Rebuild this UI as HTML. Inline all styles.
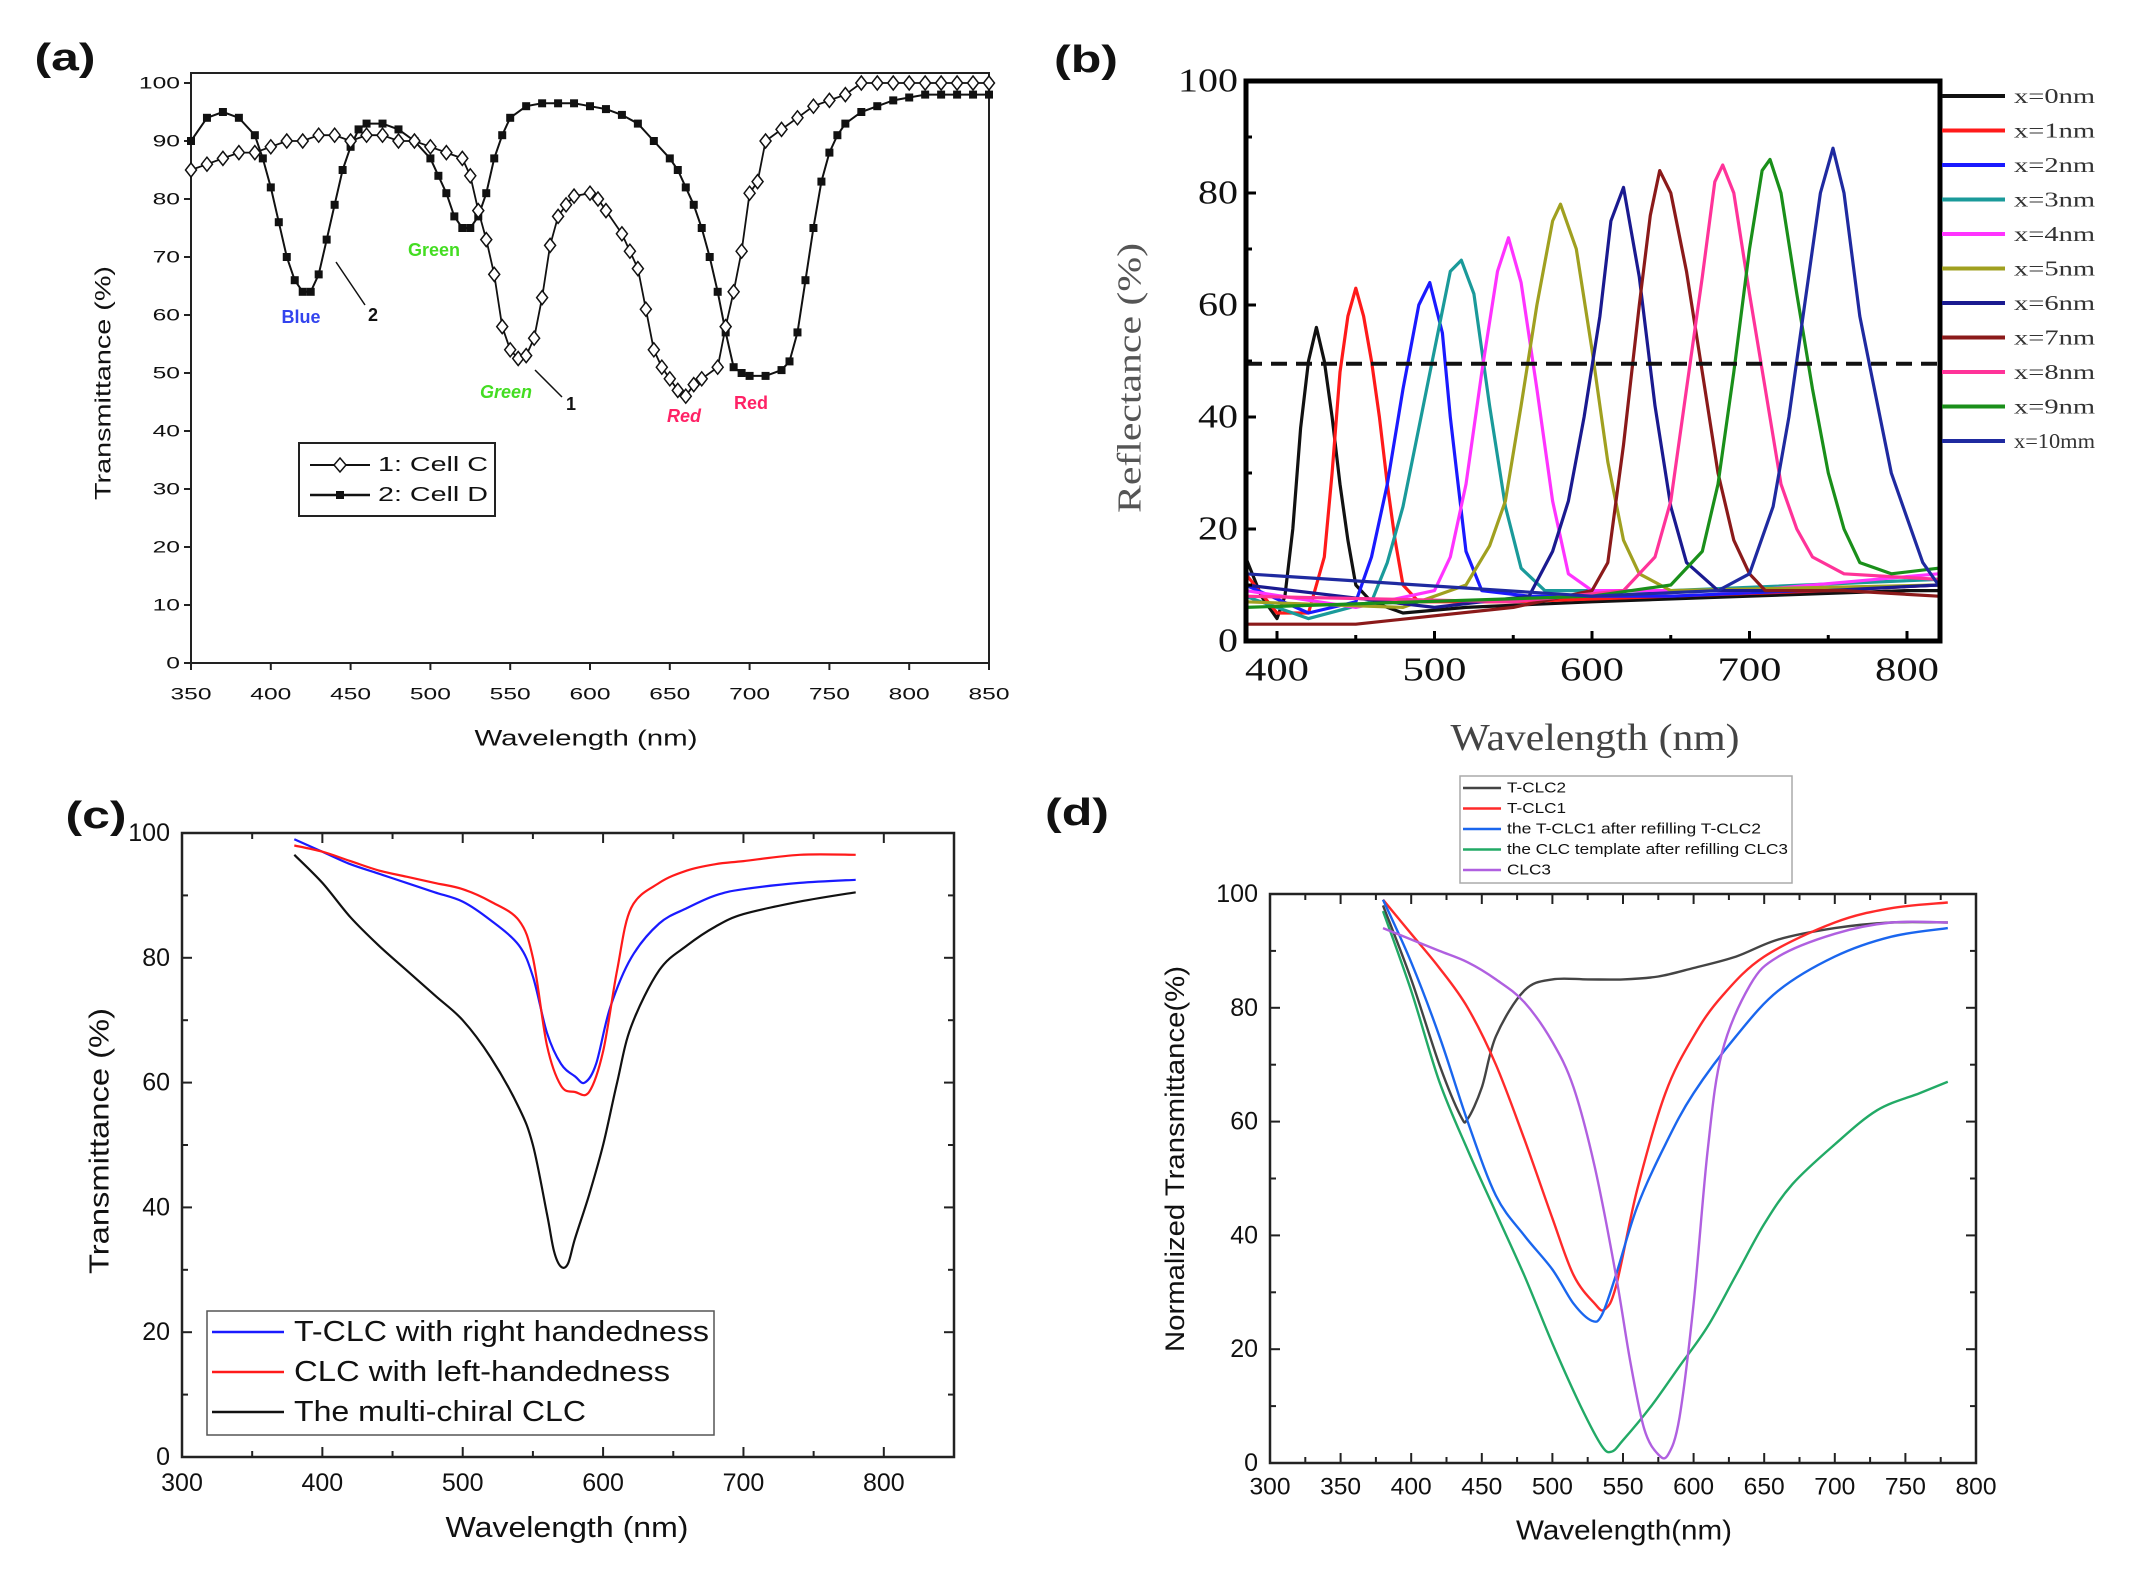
<!DOCTYPE html>
<html><head><meta charset="utf-8"><style>
html,body{margin:0;padding:0;background:#fff;}
svg{display:block;}
text{font-family:"Liberation Sans",sans-serif;}
.serif{font-family:"Liberation Serif",serif;}
</style></head><body>
<svg id="fig" xmlns="http://www.w3.org/2000/svg" width="2144" height="1577" viewBox="0 0 2144 1577">
<rect x="0" y="0" width="2144" height="1577" fill="#fff"/>
</svg>
<script>
// ===== Panel (a) data =====
const aCWl = [350,360,370,380,390,400,410,420,430,440,450,460,470,480,490,500,510,520,525,530,535,540,545,550,555,560,565,570,575,580,585,590,600,605,610,620,625,630,635,640,645,650,655,660,665,670,680,685,690,695,700,705,710,720,730,740,750,760,770,780,790,800,810,820,830,840,850];
const aCVal = [85,86,87,88,88,89,90,90,91,91,90,91,91,90,90,89,88,87,84,78,73,67,58,54,52.5,53,56,63,72,77,79,80.5,81,80,78,74,71,68,61,54,51,49,47,46,48,49,51,58,64,71,81,83,90,92,94,96,97,98,100,100,100,100,100,100,100,100,100];
const aDWl = [350,360,370,380,390,395,400,405,410,415,420,425,430,435,440,445,450,455,460,470,480,490,500,505,510,515,520,525,530,535,540,545,550,560,570,580,590,600,610,620,630,640,650,655,660,665,670,675,680,685,690,695,700,710,720,725,730,735,740,745,750,755,760,770,780,790,800,810,820,830,840,850];
const aDVal = [90,94,95,94,91,87,82,76,70,66,64,64,67,73,79,85,89,92,93,93,92,90,87,84,81,77,75,75,77,81,87,91,94,96,96.5,96.5,96.5,96,95.5,94.5,93,90,87,85,82,79,75,70,64,57,51,50,49.5,49.5,50.5,52,57,66,75,83,88,91,93,95,96,97,97.5,98,98,98,98,98];
const aXTicks = [350,400,450,500,550,600,650,700,750,800,850];
const aYTicks = [0,10,20,30,40,50,60,70,80,90,100];

// ===== Panel (b) data =====
const bLabels = ["x=0nm","x=1nm","x=2nm","x=3nm","x=4nm","x=5nm","x=6nm","x=7nm","x=8nm","x=9nm","x=10mm"];
const bX0 = [[380,15],[390,8],[400,4],[405,8],[410,20],[415,38],[420,50],[425,56],[430,50],[435,40],[440,28],[445,18],[450,10],[460,7],[480,5],[520,6],[600,7],[700,8],[800,9],[820,9]];
const bX1 = [[380,12],[400,5],[420,5],[430,15],[435,30],[440,48],[445,58],[450,63],[455,58],[460,50],[465,40],[470,28],[475,18],[480,10],[490,7],[550,7],[650,8],[750,9],[820,10]];
const bX2 = [[380,10],[420,5],[450,7],[460,15],[470,28],[480,45],[490,60],[497,64],[505,55],[510,40],[515,28],[520,16],[530,9],[560,8],[650,8],[820,10]];
const bX3 = [[380,8],[420,4],[460,7],[470,14],[480,24],[490,38],[500,52],[510,66],[517,68],[525,62],[535,42],[545,24],[555,13],[570,9],[650,9],[820,11]];
const bX4 = [[380,9],[450,6],[500,9],[510,15],[520,28],[530,48],[540,66],[547,72],[555,64],[565,45],[575,25],[585,12],[600,9],[700,9],[820,12]];
const bX5 = [[380,7],[480,6],[520,10],[535,17],[545,25],[555,42],[565,60],[575,75],[580,78],[590,70],[600,52],[610,32],[620,18],[630,12],[650,9],[820,10]];
const bX6 = [[380,10],[500,6],[560,8],[575,16],[585,25],[595,40],[605,58],[612,75],[620,81],[630,65],[640,42],[650,24],[660,14],[680,9],[750,9],[820,10]];
const bX7 = [[380,3],[450,3],[550,6],[600,9],[610,14],[620,35],[630,60],[637,76],[643,84],[650,80],[660,66],[670,48],[680,30],[690,18],[700,12],[710,9],[760,9],[820,8]];
const bX8 = [[380,8],[550,7],[620,9],[640,15],[650,25],[660,45],[670,65],[678,82],[683,85],[690,80],[700,62],[710,45],[720,28],[730,20],[740,15],[760,12],[820,11]];
const bX9 = [[380,6],[600,8],[650,10],[670,16],[680,28],[690,48],[700,70],[708,84],[713,86],[720,80],[730,62],[740,45],[750,30],[760,20],[770,14],[790,12],[820,13]];
const bX10 = [[380,12],[600,8],[680,9],[700,12],[715,24],[725,40],[735,60],[745,80],[753,88],[760,80],[770,58],[780,44],[790,30],[800,22],[810,14],[820,10]];
const bXTicks = [400,500,600,700,800];
const bYTicks = [0,20,40,60,80,100];
const bThreshold = 49.5;

// ===== Panel (c) data =====
const cBlue = [[380,99],[400,97],[420,95],[440,93.5],[460,92],[480,90.5],[500,89],[520,86],[540,82],[550,77],[560,68],[570,63],[580,61],[587,60],[595,63],[605,72],[620,80],[640,85.5],[660,88],[680,90],[700,91],[740,92],[780,92.5]];
const cRed = [[380,98],[400,97],[420,95.5],[440,94],[460,93],[480,92],[500,91],[520,89],[540,86],[550,80],[560,66],[570,59.5],[580,58.5],[590,58.5],[600,65],[610,78],[620,88],[640,92],[660,94],[680,95],[700,95.5],[740,96.5],[780,96.5]];
const cBlack = [[380,96.5],[400,92],[420,86.5],[440,82],[460,78],[480,74],[500,70],[520,64],[540,56],[550,50],[560,39],[565,33],[570,30.5],[575,31],[580,35],[590,42],[600,50],[610,60],[620,69],[640,78],[660,82],[680,85],[700,87],[740,89],[780,90.5]];
const cXTicks = [300,400,500,600,700,800];
const cYTicks = [0,20,40,60,80,100];

// ===== Panel (d) data =====
const dTCLC2 = [[380,98],[400,85],[420,70],[435,61],[440,60.5],[450,66],[460,75],[480,83],[500,85],[525,85],[550,85],[575,85.5],[600,87],[630,89],[660,92],[700,94],[740,95],[780,95]];
const dTCLC1 = [[380,99],[400,93],[420,87],[440,80],[460,70],[480,57],[500,43],[515,33],[530,28],[537,27],[545,31],[560,48],[580,65],[600,75],[620,82],[650,89],[700,95],[740,97.5],[780,98.5]];
const dRefill2 = [[380,99],[400,88],[420,75],[440,60],[460,47],[480,40],[500,34],[515,28],[528,25],[535,26],[545,33],[560,45],[580,56],[600,65],[630,75],[660,83],[700,89],[740,92.5],[780,94]];
const dRefill3 = [[380,97],[400,83],[420,67],[440,55],[460,44],[480,33],[500,21],[520,10],[535,3],[542,2],[550,4],[570,10],[590,17],[610,24],[630,33],[650,42],[670,49],[700,56],[730,62],[760,65],[780,67]];
const dCLC3 = [[380,94],[400,92],[420,90],[440,88],[460,85],[480,81],[500,74],[515,66],[530,52],[545,33],[555,18],[565,6],[575,1.5],[582,1.5],[590,8],[600,28],[610,55],[620,72],[640,84],[660,89],[700,93],[740,95],[780,95]];
const dXTicks = [300,350,400,450,500,550,600,650,700,750,800];
const dYTicks = [0,20,40,60,80,100];
const dLabels = ["T-CLC2","T-CLC1","the T-CLC1 after refilling T-CLC2","the CLC template after refilling CLC3","CLC3"];

const NS = "http://www.w3.org/2000/svg";
const svg = document.getElementById('fig');
function mk(tag, attrs, parent){
  const e = document.createElementNS(NS, tag);
  for (const k in attrs) e.setAttribute(k, attrs[k]);
  (parent||svg).appendChild(e);
  return e;
}
function txt(x,y,s,size,opts,parent){
  opts = opts||{};
  const e = mk('text',{x:x,y:y,'font-size':size,'dominant-baseline':'central','text-anchor':opts.anchor||'middle',fill:opts.fill||'#111'},parent);
  if(opts.len){e.setAttribute('textLength',opts.len);e.setAttribute('lengthAdjust','spacingAndGlyphs');}
  if(opts.weight) e.setAttribute('font-weight',opts.weight);
  if(opts.style) e.setAttribute('font-style',opts.style);
  if(opts.cls) e.setAttribute('class',opts.cls);
  if(opts.rot) e.setAttribute('transform','rotate(-90 '+x+' '+y+')');
  e.textContent = s;
  return e;
}
function linPath(pts, sx, sy){
  return pts.map((p,i)=>(i?'L':'M')+sx(p[0]).toFixed(1)+' '+sy(p[1]).toFixed(1)).join(' ');
}
function smoothPath(pts, sx, sy){
  const P = pts.map(p=>[sx(p[0]),sy(p[1])]);
  let d = 'M'+P[0][0].toFixed(1)+' '+P[0][1].toFixed(1);
  for(let i=0;i<P.length-1;i++){
    const p0=P[Math.max(0,i-1)],p1=P[i],p2=P[i+1],p3=P[Math.min(P.length-1,i+2)];
    const c1=[p1[0]+(p2[0]-p0[0])/6,p1[1]+(p2[1]-p0[1])/6];
    const c2=[p2[0]-(p3[0]-p1[0])/6,p2[1]-(p3[1]-p1[1])/6];
    d+=' C'+c1[0].toFixed(1)+' '+c1[1].toFixed(1)+' '+c2[0].toFixed(1)+' '+c2[1].toFixed(1)+' '+p2[0].toFixed(1)+' '+p2[1].toFixed(1);
  }
  return d;
}

// ================= PANEL A =================
(function(){
  const g = mk('g',{});
  
  
  const L=191,R=989,T=73,B=663,Y100=83;
  const sx = v=>L+(v-350)*(R-L)/500;
  const sy = v=>B-(v)*(B-Y100)/100;
  const lbl = txt(65,58,'(a)',38,{weight:'bold',len:61},g);
  
  
  const fr = mk('rect',{x:L,y:T,width:R-L,height:B-T,fill:'none',stroke:'#222','stroke-width':2},g);
  
  
  aXTicks.forEach(v=>{
    mk('line',{x1:sx(v),x2:sx(v),y1:B,y2:B+7,stroke:'#222','stroke-width':2},g);
    const t = txt(sx(v),694,String(v),17,{len:41},g);
    
    
  });
  aYTicks.forEach(v=>{
    mk('line',{x1:L-7,x2:L,y1:sy(v),y2:sy(v),stroke:'#222','stroke-width':2},g);
    const s=String(v);
    const t = txt(180,sy(v),s,17,{anchor:'end',len:s.length*13.7},g);
    
    
  });
  const yt = txt(103,383,'Transmittance (%)',22,{rot:true,len:234},g);
  
  
  const xt = txt(586,738,'Wavelength (nm)',22,{len:223},g);
  
  
  // series D
  const pdD = aDWl.map((w,i)=>[w,aDVal[i]]);
  const lD = mk('path',{d:linPath(pdD,sx,sy),fill:'none',stroke:'#111','stroke-width':2},g);
  
  
  pdD.forEach(p=>{
    const m = mk('rect',{x:sx(p[0])-4,y:sy(p[1])-4,width:8,height:8,fill:'#111'},g);
    
    
  });
  const pdC = aCWl.map((w,i)=>[w,aCVal[i]]);
  const lC = mk('path',{d:linPath(pdC,sx,sy),fill:'none',stroke:'#111','stroke-width':1.8},g);
  
  
  pdC.forEach(p=>{
    const x=sx(p[0]),y=sy(p[1]);
    const m = mk('path',{d:`M${x} ${y-7} L${x+5.5} ${y} L${x} ${y+7} L${x-5.5} ${y} Z`,fill:'#fff',stroke:'#111','stroke-width':1.5},g);
    
    
  });
  // annotations
  const an = [[301,317,'Blue','#3344ee',''],[434,250,'Green','#44dd22',''],[506,392,'Green','#44dd22','italic'],[684,416,'Red','#ff2266','italic'],[751,403,'Red','#ff2266',''],[373,315,'2','#111',''],[571,404,'1','#111','']];
  an.forEach(a=>{
    const t = txt(a[0],a[1],a[2],18,{fill:a[3],weight:'bold',style:a[4]||null},g);
    if(!a[4]) t.removeAttribute('font-style');
    
    
  });
  mk('line',{x1:365,y1:305,x2:336,y2:262,stroke:'#111','stroke-width':1.5},g);
  mk('line',{x1:562,y1:397,x2:535,y2:370,stroke:'#111','stroke-width':1.5},g);
  // legend
  const lg = mk('g',{},g);
  
  
  mk('rect',{x:299,y:443,width:196,height:73,fill:'#fff',stroke:'#222','stroke-width':2},lg);
  mk('line',{x1:310,x2:370,y1:465,y2:465,stroke:'#111','stroke-width':2},lg);
  mk('path',{d:'M340 458 L346 465 L340 472 L334 465 Z',fill:'#fff',stroke:'#111','stroke-width':1.5},lg);
  mk('line',{x1:310,x2:370,y1:495,y2:495,stroke:'#111','stroke-width':2.5},lg);
  mk('rect',{x:336,y:491,width:8,height:8,fill:'#111'},lg);
  const e1 = txt(378,465,'1: Cell C',20,{anchor:'start',len:110},lg);
  
  
  const e2 = txt(378,495,'2: Cell D',20,{anchor:'start',len:110},lg);
  
  
})();

// ================= PANEL B =================
(function(){
  const g = mk('g',{});
  
  
  const L=1246,R=1940,T=81,B=641;
  const sx = v=>1277+(v-400)*(1907-1277)/400;
  const sy = v=>B-v*(B-T)/100;
  const lbl = txt(1086,60,'(b)',38,{weight:'bold',len:64},g);
  
  
  const cols = ['#111111','#ff1a1a','#1a1aff','#1a9a9a','#ff33ff','#a0a020','#1a1a90','#8b1a1a','#ff3399','#1a8f1a','#1f2aa0'];
  const series = [bX0,bX1,bX2,bX3,bX4,bX5,bX6,bX7,bX8,bX9,bX10];
  const cg = mk('g',{},g);
  
  
  series.forEach((s,i)=>{
    const p = mk('path',{d:linPath(s,sx,sy),fill:'none',stroke:cols[i],'stroke-width':3.2,'stroke-linejoin':'round'},cg);
    
    
  });
  const dl = mk('line',{x1:L,x2:R,y1:sy(bThreshold),y2:sy(bThreshold),stroke:'#111','stroke-width':4,'stroke-dasharray':'16 9'},g);
  
  
  const fr = mk('rect',{x:L,y:T,width:R-L,height:B-T,fill:'none',stroke:'#000','stroke-width':5},g);
  
  
  for(let v=400;v<=800;v+=50) mk('line',{x1:sx(v),x2:sx(v),y1:B,y2:B-(v%100?6:10),stroke:'#000','stroke-width':3},g);
  for(let v=10;v<100;v+=10) mk('line',{x1:L,x2:L+(v%20?6:10),y1:sy(v),y2:sy(v),stroke:'#000','stroke-width':3},g);
  bXTicks.forEach(v=>{
    const t = txt(sx(v),670,String(v),34,{cls:'serif',len:64},g);
    
    
  });
  bYTicks.forEach(v=>{
    const s=String(v);
    const t = txt(1238,sy(v),s,34,{cls:'serif',anchor:'end',len:s.length*20},g);
    
    
  });
  const yt = txt(1130,378,'Reflectance (%)',34,{cls:'serif',rot:true,len:270,fill:'#555'},g);
  
  
  const xt = txt(1595,738,'Wavelength (nm)',38,{cls:'serif',len:289,fill:'#444'},g);
  
  
  const lg = mk('g',{},g);
  
  
  bLabels.forEach((s,i)=>{
    const y = 96+i*34.5;
    mk('line',{x1:1942,x2:2005,y1:y,y2:y,stroke:cols[i],'stroke-width':4},lg);
    const t = txt(2014,y,s,21,{cls:'serif',anchor:'start',len:s.length>6?92:81,fill:'#333'},lg);
    
    
  });
})();

// ================= PANEL C =================
(function(){
  const g = mk('g',{});
  
  
  const L=182,R=954,T=833,B=1457;
  const sx = v=>L+(v-300)*(R-L)/550;
  const sy = v=>B-v*(B-T)/100;
  const lbl = txt(96,816,'(c)',38,{weight:'bold',len:61},g);
  
  
  const fr = mk('rect',{x:L,y:T,width:R-L,height:B-T,fill:'none',stroke:'#222','stroke-width':2.5},g);
  
  
  for(let v=350;v<=800;v+=50){const h=v%100?6:10;
    mk('line',{x1:sx(v),x2:sx(v),y1:B,y2:B-h,stroke:'#222','stroke-width':2},g);
    mk('line',{x1:sx(v),x2:sx(v),y1:T,y2:T+h,stroke:'#222','stroke-width':2},g);}
  for(let v=10;v<100;v+=10){const h=v%20?6:10;
    mk('line',{x1:L,x2:L+h,y1:sy(v),y2:sy(v),stroke:'#222','stroke-width':2},g);
    mk('line',{x1:R,x2:R-h,y1:sy(v),y2:sy(v),stroke:'#222','stroke-width':2},g);}
  cXTicks.forEach(v=>{
    const t = txt(sx(v),1483,String(v),25,{},g);
    
    
  });
  cYTicks.forEach(v=>{
    const t = txt(170,sy(v),String(v),25,{anchor:'end'},g);
    
    
  });
  const yt = txt(99,1141,'Transmittance (%)',28,{rot:true,len:266},g);
  
  
  const xt = txt(567,1528,'Wavelength (nm)',29,{len:243},g);
  
  
  const defs=[[cBlack,'#111','series-multi-chiral'],[cBlue,'#1a1aff','series-t-clc-right'],[cRed,'#ff1a1a','series-clc-left']];
  defs.forEach(d=>{
    const p = mk('path',{d:smoothPath(d[0],sx,sy),fill:'none',stroke:d[1],'stroke-width':2.2},g);
    
    
  });
  const lg = mk('g',{},g);
  
  
  mk('rect',{x:207,y:1311,width:507,height:124,fill:'#fff',stroke:'#555','stroke-width':1.5},lg);
  const ent=[['T-CLC with right handedness','#1a1aff',294,415],[' CLC with left-handedness','#ff1a1a',294,376],['The multi-chiral CLC','#111',294,292]];
  ent.forEach((e,i)=>{
    const y=1332+i*40;
    mk('line',{x1:212,x2:284,y1:y,y2:y,stroke:e[1],'stroke-width':2.5},lg);
    const t = txt(e[2],y,e[0],29,{anchor:'start',len:e[3]},lg);
    t.setAttribute('xml:space','preserve');
    
    
  });
})();

// ================= PANEL D =================
(function(){
  const g = mk('g',{});
  
  
  const L=1270,R=1976,T=894,B=1463;
  const sx = v=>L+(v-300)*(R-L)/500;
  const sy = v=>B-v*(B-T)/100;
  const lbl = txt(1077,813,'(d)',38,{weight:'bold',len:64},g);
  
  
  const fr = mk('rect',{x:L,y:T,width:R-L,height:B-T,fill:'none',stroke:'#222','stroke-width':2.5},g);
  
  
  for(let v=325;v<800;v+=25){const h=v%50?6:10;
    mk('line',{x1:sx(v),x2:sx(v),y1:B,y2:B-h,stroke:'#222','stroke-width':2},g);
    mk('line',{x1:sx(v),x2:sx(v),y1:T,y2:T+h,stroke:'#222','stroke-width':2},g);}
  for(let v=10;v<100;v+=10){const h=v%20?6:10;
    mk('line',{x1:L,x2:L+h,y1:sy(v),y2:sy(v),stroke:'#222','stroke-width':2},g);
    mk('line',{x1:R,x2:R-h,y1:sy(v),y2:sy(v),stroke:'#222','stroke-width':2},g);}
  dXTicks.forEach(v=>{
    const t = txt(sx(v),1487,String(v),24,{len:41},g);
    
    
  });
  dYTicks.forEach(v=>{
    const t = txt(1258,sy(v),String(v),25,{anchor:'end'},g);
    
    
  });
  const yt = txt(1175,1159,'Normalized Transmittance(%)',27,{rot:true,len:386},g);
  
  
  const xt = txt(1624,1530,'Wavelength(nm)',28,{len:216},g);
  
  
  const cols=['#444','#ff2a2a','#1a66ee','#22aa66','#b060e0'];
  const ser=[dTCLC2,dTCLC1,dRefill2,dRefill3,dCLC3];
  ser.forEach((s,i)=>{
    const p = mk('path',{d:smoothPath(s,sx,sy),fill:'none',stroke:cols[i],'stroke-width':2.4},g);
    
    
  });
  const lg = mk('g',{},g);
  
  
  mk('rect',{x:1460,y:776,width:332,height:107,fill:'#fff',stroke:'#aaa','stroke-width':1.5},lg);
  const lens=[59,59,254,281,44];
  dLabels.forEach((s,i)=>{
    const y=788+i*20.5;
    mk('line',{x1:1463,x2:1501,y1:y,y2:y,stroke:cols[i],'stroke-width':2.5},lg);
    const t = txt(1507,y,s,15,{anchor:'start',len:lens[i]},lg);
    
    
  });
})();
</script>
</body></html>
